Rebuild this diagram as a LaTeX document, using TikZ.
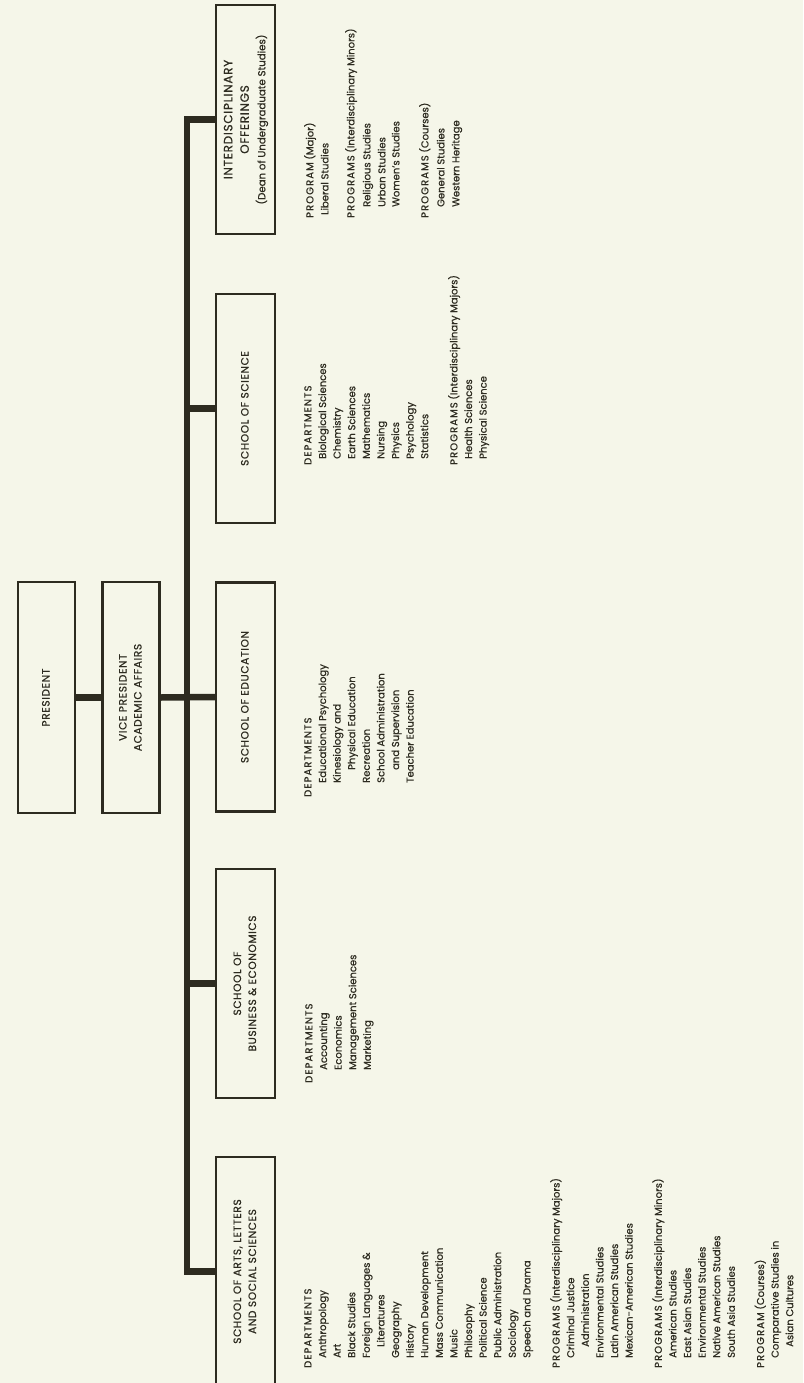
\documentclass[tikz,border=0pt]{standalone}
\usepackage{fontspec}
\setmainfont{Poppins}[FakeBold=0.7]
\usepackage{graphicx}
\definecolor{paper}{RGB}{245,246,233}
\definecolor{ink}{RGB}{45,43,32}
\newcommand\lstfont{\fontsize{10}{11}\selectfont}
\newcommand\boxfont{\fontsize{10.6}{15}\selectfont\addfontfeature{LetterSpace=6}}
\newcommand\interfont{\fontsize{12}{16.5}\selectfont\addfontfeature{LetterSpace=6}}
\newcommand\deanfont{\fontsize{10.2}{13}\selectfont\addfontfeature{LetterSpace=0}}
\newcommand\hd[1]{{\addfontfeature{LetterSpace=11}#1}}
\newcommand\rt[1]{\rotatebox{90}{\begin{tabular}{@{}c@{}}#1\end{tabular}}}
\newcommand\li[4]{\node[lst] (#1) at ({#2+3.4},#3) {#4};}
\begin{document}
\begin{tikzpicture}[x=1pt,y=-1pt,
  tbox/.style={draw=ink, line width=2.2pt, minimum width=57pt, minimum height=231pt, inner sep=0pt, text=ink, font=\boxfont},
  sbox/.style={tbox, minimum width=59pt, minimum height=229pt},
  conn/.style={draw=ink, line width=6.5pt, line join=miter},
  lst/.style={rotate=90, anchor=base west, inner sep=0pt, text=ink, font=\lstfont}]
\fill[paper] (0,0) rectangle (803,1383);
\useasboundingbox (0,0) rectangle (803,1383);

% boxes
\node[tbox] (pres) at (46.5,697.5) {\rt{PRESIDENT}};
\node[tbox] (vp) at (131,697.5) {\rt{VICE PRESIDENT\\ACADEMIC AFFAIRS}};
\node[sbox, font=\interfont] (inter) at (245.5,119.5) {\rt{INTERDISCIPLINARY\\OFFERINGS\\{\deanfont (Dean of Undergraduate Studies)}}};
\node[sbox] (sci) at (245.5,408.5) {\rt{SCHOOL OF SCIENCE}};
\node[sbox] (edu) at (245.5,697) {\rt{SCHOOL OF EDUCATION}};
\node[sbox] (bus) at (245.5,983.5) {\rt{SCHOOL OF\\BUSINESS \& ECONOMICS}};
\node[sbox] (arts) at (245.5,1271.5) {\rt{SCHOOL OF ARTS, LETTERS\\AND SOCIAL SCIENCES}};

% connectors
\coordinate (tt) at (187,119.5);
\coordinate (tb) at (187,1271.5);
\draw[conn] (inter.west) -- (tt) -- (tb) -- (arts.west);
\draw[conn] (pres.east) -- (vp.west);
\draw[conn] (vp.east) -- (edu.west);
\draw[conn] (sci.west) -- (sci.west -| tt);
\draw[conn] (bus.west) -- (bus.west -| tt);

% interdisciplinary
\li{i0}{310}{218}{\hd{PROGRAM} (Major)}
\li{i1}{325}{215}{Liberal Studies}
\li{i2}{351}{218}{\hd{PROGRAMS} (Interdisciplinary Minors)}
\li{i3}{367}{207}{Religious Studies}
\li{i4}{382}{207}{Urban Studies}
\li{i5}{396}{207}{Women’s Studies}
\li{i6}{425}{218}{\hd{PROGRAMS} (Courses)}
\li{i7}{441}{207}{General Studies}
\li{i8}{456}{207}{Western Heritage}

% science
\li{s0}{308}{465}{\hd{DEPARTMENTS}}
\li{s1}{322.6}{459}{Biological Sciences}
\li{s2}{337.2}{459}{Chemistry}
\li{s3}{351.8}{459}{Earth Sciences}
\li{s4}{366.4}{459}{Mathematics}
\li{s5}{381}{459}{Nursing}
\li{s6}{395.6}{459}{Physics}
\li{s7}{410.2}{459}{Psychology}
\li{s8}{424.8}{459}{Statistics}
\li{s9}{454}{465}{\hd{PROGRAMS} (Interdisciplinary Majors)}
\li{s10}{468.6}{459}{Health Sciences}
\li{s11}{483.2}{459}{Physical Science}

% education
\li{e0}{308}{797}{\hd{DEPARTMENTS}}
\li{e1}{322.6}{783}{Educational Psychology}
\li{e2}{337.2}{783}{Kinesiology and}
\li{e3}{351.8}{770}{Physical Education}
\li{e4}{366.4}{783}{Recreation}
\li{e5}{381}{783}{School Administration}
\li{e6}{395.6}{770}{and Supervision}
\li{e7}{410.2}{783}{Teacher Education}

% business
\li{b0}{309}{1083}{\hd{DEPARTMENTS}}
\li{b1}{323.6}{1070}{Accounting}
\li{b2}{338.2}{1070}{Economics}
\li{b3}{352.8}{1070}{Management Sciences}
\li{b4}{367.4}{1070}{Marketing}

% arts
\li{a0}{308}{1368}{\hd{DEPARTMENTS}}
\li{a1}{322.6}{1358}{Anthropology}
\li{a2}{337.2}{1358}{Art}
\li{a3}{351.8}{1358}{Black Studies}
\li{a4}{366.4}{1358}{Foreign Languages \&}
\li{a5}{381}{1347}{Literatures}
\li{a6}{395.6}{1358}{Geography}
\li{a7}{410.2}{1358}{History}
\li{a8}{424.8}{1358}{Human Development}
\li{a9}{439.4}{1358}{Mass Communication}
\li{a10}{454}{1358}{Music}
\li{a11}{468.6}{1358}{Philosophy}
\li{a12}{483.2}{1358}{Political Science}
\li{a13}{497.8}{1358}{Public Administration}
\li{a14}{512.4}{1358}{Sociology}
\li{a15}{527}{1358}{Speech and Drama}
\li{a16}{556.2}{1368}{\hd{PROGRAMS} (Interdisciplinary Majors)}
\li{a17}{570.8}{1358}{Criminal Justice}
\li{a18}{585.4}{1347}{Administration}
\li{a19}{600}{1358}{Environmental Studies}
\li{a20}{614.6}{1358}{Latin American Studies}
\li{a21}{629.2}{1358}{Mexican-American Studies}
\li{a22}{658.4}{1368}{\hd{PROGRAMS} (Interdisciplinary Minors)}
\li{a23}{673}{1358}{American Studies}
\li{a24}{687.6}{1358}{East Asian Studies}
\li{a25}{702.2}{1358}{Environmental Studies}
\li{a26}{716.8}{1358}{Native American Studies}
\li{a27}{731.4}{1358}{South Asia Studies}
\li{a28}{760.6}{1368}{\hd{PROGRAM} (Courses)}
\li{a29}{775.2}{1358}{Comparative Studies in}
\li{a30}{789.8}{1347}{Asian Cultures}
\end{tikzpicture}
\end{document}
